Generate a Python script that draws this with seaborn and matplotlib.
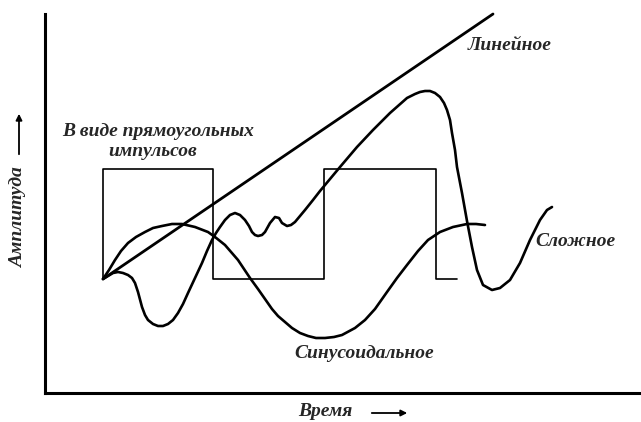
import matplotlib
matplotlib.use("Agg")
import seaborn as sns
import matplotlib.pyplot as plt

# Signal shapes (time, amplitude in arbitrary units)
square_t = [58, 58, 168, 168, 279, 279, 391, 391, 412]
square_a = [114, 224, 224, 114, 114, 224, 224, 114, 114]

linear_t = [58, 448]
linear_a = [114, 379]

sine_t = [58, 64, 70, 76, 83, 91, 100, 108, 117, 127, 137, 150, 163, 170,
          180, 193, 205, 213, 220, 227, 233, 240, 247, 255, 263, 271, 280,
          289, 297, 310, 320, 330, 342, 352, 362, 373, 383, 395, 408, 422,
          431, 440]
sine_a = [114, 123, 133, 142, 150, 156, 161, 165, 167, 169, 169, 166, 161,
          156, 148, 133, 115, 104, 94, 84, 77, 71, 65, 60, 57, 55, 55, 56,
          58, 65, 73, 84, 101, 115, 128, 142, 153, 161, 166, 169, 169, 168]

complex_t = [58, 63, 68, 73, 78, 83, 87, 90, 93, 97, 100, 103, 108, 113, 118,
             123, 128, 133, 138, 143, 150, 157, 162, 167, 171, 175, 180, 185,
             190, 195, 200, 204, 207, 210, 213, 217, 220, 225, 230, 234, 237,
             242, 246, 250, 255, 260, 268, 275, 285, 295, 312, 328, 345, 362,
             370, 375, 380, 385, 390, 395, 399, 402, 405, 407, 410, 412, 417,
             422, 427, 432, 438, 447, 455, 465, 475, 485, 495, 502, 507]
complex_a = [114, 117, 120, 121, 120, 118, 115, 110, 101, 86, 78, 73, 69, 67,
             67, 69, 73, 80, 89, 100, 115, 130, 142, 153, 160, 166, 173, 178,
             180, 178, 173, 167, 161, 158, 157, 158, 161, 170, 176, 175, 170,
             167, 168, 171, 177, 183, 193, 202, 214, 226, 246, 263, 280, 295,
             299, 301, 302, 302, 300, 296, 290, 283, 273, 260, 243, 226, 200,
             172, 146, 123, 108, 103, 105, 113, 130, 153, 173, 183, 186]

labels = {
    "Линейное": (465, 348),
    "Сложное": (530, 152),
    "Синусоидальное": (319, 40),
    "В виде прямоугольных": (113, 261),
    "импульсов": (108, 241),
}

sns.set_style("white")
font = ["Liberation Serif", "DejaVu Sans"]
txt_kw = dict(fontsize=14, style="italic", fontweight="bold", family=font)

fig = plt.figure(figsize=(6.41, 4.22), dpi=100)
ax = fig.add_axes([45 / 641, 29 / 422, 596 / 641, 379 / 422])

line_kw = dict(color="black", sort=False, estimator=None, ax=ax, legend=False)
sns.lineplot(x=square_t, y=square_a, linewidth=1.2, **line_kw)
sns.lineplot(x=linear_t, y=linear_a, linewidth=2.0, **line_kw)
sns.lineplot(x=sine_t, y=sine_a, linewidth=1.9, **line_kw)
sns.lineplot(x=complex_t, y=complex_a, linewidth=1.9, **line_kw)
for ln in ax.lines:
    ln.set_clip_on(False)
    ln.set_solid_joinstyle("round")

for txt, (tx, ty) in labels.items():
    ax.text(tx, ty, txt, ha="center", va="center", **txt_kw)

ax.set_xlim(0, 596)
ax.set_ylim(0, 379)
ax.set_xticks([])
ax.set_yticks([])
sns.despine(ax=ax)
for s in ("left", "bottom"):
    ax.spines[s].set_linewidth(2.2)
    ax.spines[s].set_color("black")

ax.set_xlabel("Время", **txt_kw)
ax.set_ylabel("Амплитуда", **txt_kw)
ax.xaxis.set_label_coords(0.47, -0.026)
ax.yaxis.set_label_coords(-0.03, 0.464)

# direction arrows next to the axis titles
arrow = dict(arrowstyle="-|>", color="black", lw=1.3, mutation_scale=9)
ax.annotate("", xy=(410, 9), xytext=(369, 9), xycoords="figure pixels",
            textcoords="figure pixels", arrowprops=arrow)
ax.annotate("", xy=(19, 311), xytext=(19, 265), xycoords="figure pixels",
            textcoords="figure pixels", arrowprops=arrow)

fig.savefig("out.png", dpi=100)
